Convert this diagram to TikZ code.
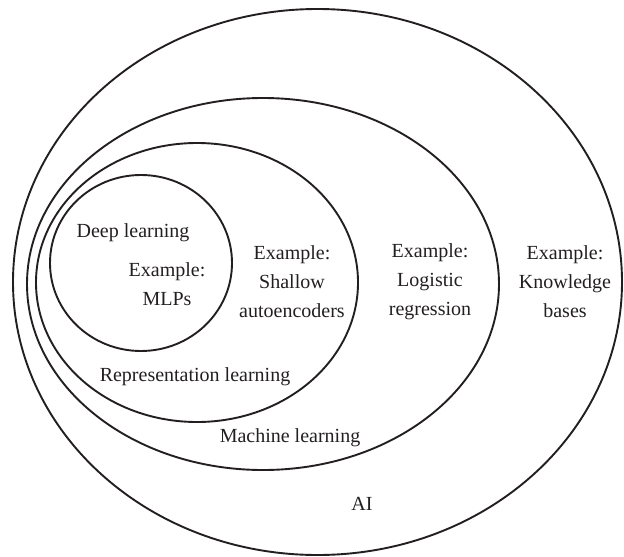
\documentclass[tikz,border=0pt]{standalone}
\usepackage{fontspec}
\setmainfont{Liberation Serif}
\definecolor{ink}{HTML}{231F20}
\begin{document}
\begin{tikzpicture}[x=1pt,y=-1pt,
  ring/.style={draw=ink,line width=1.9pt},
  lbl/.style={text=ink,font=\fontsize{20}{29}\selectfont,align=center,inner sep=0pt}]
\useasboundingbox (0,0) rectangle (624,557);
\draw[ring] (317.5,282) ellipse [x radius=304.5, y radius=273];
\draw[ring] (263,284) ellipse [x radius=236, y radius=186];
\draw[ring] (197,282.5) ellipse [x radius=161, y radius=139.5];
\draw[ring] (141,263) ellipse [x radius=91, y radius=88];
\node[lbl] (dl) at (133,233) {Deep learning};
\node[lbl] (mlp) at (167,284) {Example:\\MLPs};
\node[lbl] (sae) at (292,282) {Example:\\Shallow\\autoencoders};
\node[lbl] (lr) at (430,282) {Example:\\Logistic\\regression};
\node[lbl] (kb) at (565,282) {Example:\\Knowledge\\bases};
\node[lbl] (rl) at (195,377) {Representation learning};
\node[lbl] (ml) at (290,438) {Machine learning};
\node[lbl] (ai) at (362,504) {AI};
\end{tikzpicture}
\end{document}
